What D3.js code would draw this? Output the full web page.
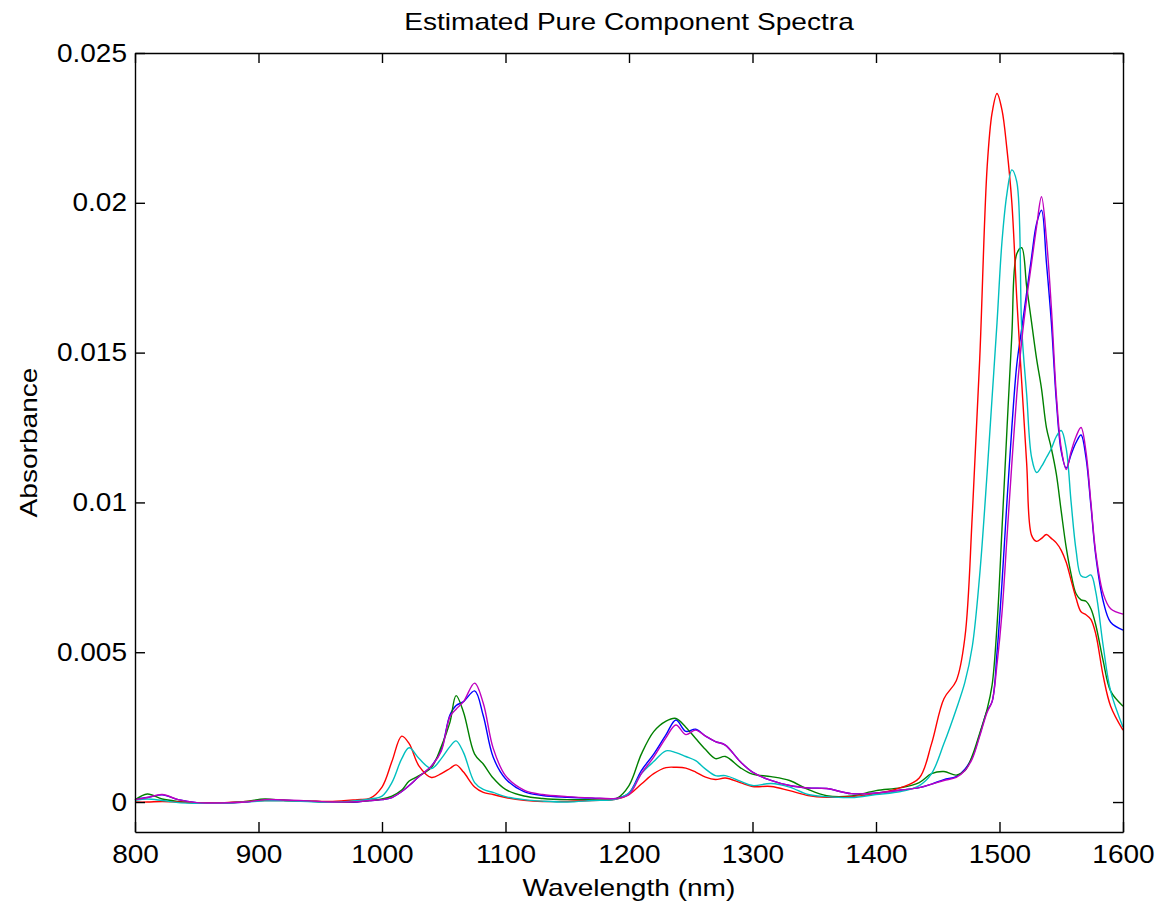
<!DOCTYPE html>
<html>
<head>
<meta charset="utf-8">
<style>
  body { margin: 0; background: #fff; }
  text { font-family: "Liberation Sans", Arial, Helvetica, sans-serif; fill: #000; }
  .axis text { font-size: 25px; font-family: "Liberation Sans", Arial, Helvetica, sans-serif; }
  .axis path, .axis line { stroke: #000; stroke-width: 1.4; }
  .spectrum { fill: none; stroke-width: 1.4; }
  .label { font-size: 24px; }
</style>
</head>
<body>
<svg id="chart" width="1159" height="908"></svg>
<script src="https://cdn.jsdelivr.net/npm/d3@7"></script>
<script>

var wavelength = [800, 810, 822, 835, 850, 870, 890, 905, 920, 940, 960, 980,
  990, 1000, 1008, 1016, 1022, 1030, 1040, 1048, 1055, 1060, 1066, 1075, 1082, 1090, 1100, 1115, 1130,
  1150, 1170, 1190, 1200, 1210, 1220, 1230, 1238, 1246, 1254, 1262, 1270, 1278, 1290, 1300, 1315, 1330, 1345, 1360,
  1380, 1400, 1420, 1435, 1445, 1455, 1465, 1472, 1478, 1484, 1490, 1494, 1498, 1502, 1506, 1510, 1514, 1518,
  1522, 1526, 1530, 1534, 1538, 1542, 1546, 1550, 1554, 1558, 1562, 1566, 1570, 1574, 1578, 1584, 1590, 1600];

// absorbance x 1e-3, one array per component
var blue = [0.10, 0.15, 0.24, 0.08, -0.02, -0.03, 0.00, 0.08, 0.06, 0.03, 0.00, 0.00,
  0.05, 0.08, 0.15, 0.35, 0.55, 0.85, 1.20, 1.75, 2.90, 3.22, 3.35, 3.71, 2.88, 1.50, 0.78, 0.35, 0.22,
  0.16, 0.13, 0.12, 0.30, 1.05, 1.60, 2.25, 2.74, 2.36, 2.43, 2.20, 2.02, 1.90, 1.35, 1.00, 0.72, 0.55, 0.47, 0.45,
  0.28, 0.30, 0.40, 0.48, 0.60, 0.75, 0.85, 1.10, 1.50, 2.25, 3.05, 3.35, 5.00, 7.30, 10.0, 12.5, 14.6, 15.8,
  17.0, 18.2, 19.3, 19.75, 18.0, 16.0, 13.4, 11.7, 11.15, 11.6, 12.0, 12.25, 11.5, 9.9, 8.2, 6.7, 6.0, 5.74];

var green = [0.07, 0.27, 0.10, 0.02, -0.03, -0.03, 0.02, 0.10, 0.06, 0.03, 0.00, 0.02,
  0.05, 0.10, 0.20, 0.40, 0.70, 0.88, 1.15, 1.85, 2.66, 3.55, 3.00, 1.60, 1.27, 0.80, 0.42, 0.20, 0.12,
  0.08, 0.08, 0.12, 0.55, 1.60, 2.35, 2.70, 2.79, 2.50, 2.12, 1.75, 1.45, 1.52, 1.15, 0.93, 0.85, 0.72, 0.42, 0.21,
  0.20, 0.38, 0.48, 0.65, 0.95, 1.02, 0.90, 1.05, 1.55, 2.30, 3.10, 3.90, 5.90, 9.10, 12.4, 15.6, 18.3, 18.5,
  17.2, 16.0, 14.8, 13.8, 12.5, 11.8, 10.95, 9.70, 8.50, 7.60, 6.95, 6.75, 6.70, 6.45, 5.90, 4.70, 3.70, 3.20];

var red = [0.00, 0.00, 0.02, 0.00, -0.03, -0.02, 0.02, 0.05, 0.05, 0.03, 0.02, 0.08,
  0.12, 0.50, 1.35, 2.20, 1.95, 1.20, 0.82, 0.95, 1.12, 1.24, 1.00, 0.50, 0.32, 0.25, 0.15, 0.06, 0.02,
  0.02, 0.05, 0.10, 0.25, 0.60, 0.95, 1.15, 1.16, 1.13, 1.00, 0.83, 0.75, 0.80, 0.65, 0.52, 0.52, 0.38, 0.22, 0.16,
  0.18, 0.28, 0.48, 0.80, 1.95, 3.45, 4.05, 5.50, 9.60, 14.8, 21.2, 23.0, 23.65, 23.1, 21.8, 20.0, 16.8, 14.0,
  11.3, 8.90, 8.70, 8.80, 8.93, 8.80, 8.65, 8.40, 8.00, 7.40, 6.80, 6.35, 6.25, 6.10, 5.60, 4.20, 3.20, 2.40];

var cyan = [0.06, 0.10, 0.05, -0.02, -0.04, -0.04, 0.00, 0.04, 0.04, 0.02, -0.01, 0.05,
  0.10, 0.20, 0.65, 1.45, 1.81, 1.45, 1.12, 1.45, 1.85, 2.04, 1.65, 0.65, 0.42, 0.32, 0.18, 0.08, 0.03,
  0.00, 0.05, 0.10, 0.30, 0.95, 1.35, 1.71, 1.65, 1.52, 1.38, 1.10, 0.88, 0.88, 0.70, 0.55, 0.62, 0.50, 0.25, 0.18,
  0.15, 0.25, 0.35, 0.55, 0.95, 1.95, 3.10, 4.00, 5.20, 7.60, 11.0, 13.5, 16.0, 18.7, 20.3, 21.1, 20.7, 15.8,
  13.6, 11.5, 11.0, 11.2, 11.5, 11.8, 12.2, 12.4, 11.8, 10.0, 8.40, 7.55, 7.50, 7.58, 7.00, 5.20, 3.70, 2.50];

var magenta = [0.08, 0.15, 0.25, 0.08, -0.02, -0.03, 0.00, 0.08, 0.07, 0.04, 0.00, 0.01,
  0.05, 0.08, 0.15, 0.35, 0.55, 0.85, 1.20, 1.70, 2.85, 3.10, 3.35, 3.97, 3.30, 1.80, 0.88, 0.40, 0.25,
  0.18, 0.14, 0.12, 0.25, 0.95, 1.50, 2.15, 2.57, 2.25, 2.40, 2.20, 2.02, 1.90, 1.35, 1.00, 0.72, 0.55, 0.47, 0.45,
  0.28, 0.30, 0.40, 0.48, 0.60, 0.72, 0.82, 1.05, 1.45, 2.20, 3.00, 3.35, 4.60, 6.30, 8.80, 11.3, 13.6, 15.4,
  16.8, 18.0, 19.2, 20.2, 18.8, 16.5, 13.6, 11.8, 11.1, 11.7, 12.2, 12.5, 11.7, 10.0, 8.30, 6.95, 6.45, 6.27];

var xTicks = [800, 900, 1000, 1100, 1200, 1300, 1400, 1500, 1600];
var yTicks = [0, 0.005, 0.01, 0.015, 0.02, 0.025];

var series = [
  {values: blue, color: "#0000ff"},
  {values: green, color: "#008000"},
  {values: red, color: "#ff0000"},
  {values: cyan, color: "#00bfbf"},
  {values: magenta, color: "#bf00bf"}
];

var margin = {top: 53, right: 36, bottom: 76, left: 135},
    width = 1159 - margin.left - margin.right,
    height = 908 - margin.top - margin.bottom;

var x = d3.scaleLinear().domain([800, 1600]).range([0, width]);
var y = d3.scaleLinear().domain([-0.001, 0.025]).range([height, 0]);

var svg = d3.select("#chart");
var g = svg.append("g")
    .attr("transform", "translate(" + margin.left + "," + margin.top + ")");

var line = d3.line()
    .x(function(d, i) { return x(wavelength[i]); })
    .y(function(d) { return y(d * 1e-3); })
    .curve(d3.curveCatmullRom.alpha(0.5));

g.selectAll(".spectrum")
    .data(series)
  .enter().append("path")
    .attr("class", "spectrum")
    .attr("stroke", function(d) { return d.color; })
    .attr("d", function(d) { return line(d.values); });

var yFormat = function(d) { return d === 0 ? "0" : d3.format(".3~f")(d); };

g.append("g")
    .attr("class", "axis")
    .attr("transform", "translate(0," + height + ")")
    .call(d3.axisBottom(x).tickValues(xTicks).tickSizeInner(-10).tickSizeOuter(0).tickPadding(13).tickFormat(d3.format("d")));

g.append("g")
    .attr("class", "axis")
    .call(d3.axisTop(x).tickValues(xTicks).tickSizeInner(-10).tickSizeOuter(0).tickFormat(""));

g.append("g")
    .attr("class", "axis")
    .call(d3.axisLeft(y).tickValues(yTicks).tickSizeInner(-10).tickSizeOuter(0).tickPadding(8).tickFormat(yFormat));

g.append("g")
    .attr("class", "axis")
    .attr("transform", "translate(" + width + ",0)")
    .call(d3.axisRight(y).tickValues(yTicks).tickSizeInner(-10).tickSizeOuter(0).tickFormat(""));

svg.append("text")
    .attr("class", "label")
    .attr("x", margin.left + width / 2)
    .attr("y", 30)
    .attr("text-anchor", "middle")
    .text("Estimated Pure Component Spectra");

svg.append("text")
    .attr("class", "label")
    .attr("x", margin.left + width / 2)
    .attr("y", 896)
    .attr("text-anchor", "middle")
    .text("Wavelength (nm)");

svg.append("text")
    .attr("class", "label")
    .attr("transform", "translate(37," + (margin.top + height / 2) + ") rotate(-90)")
    .attr("text-anchor", "middle")
    .text("Absorbance");

// the reference font runs wider than Liberation Sans, stretch each label a bit
svg.selectAll("text").each(function() {
  var w = this.getComputedTextLength();
  var k = this.parentNode.getAttribute("class") === "tick" ? 1.12 : 1.17;
  if (w > 0) d3.select(this).attr("textLength", w * k).attr("lengthAdjust", "spacingAndGlyphs");
});

</script>
</body>
</html>
